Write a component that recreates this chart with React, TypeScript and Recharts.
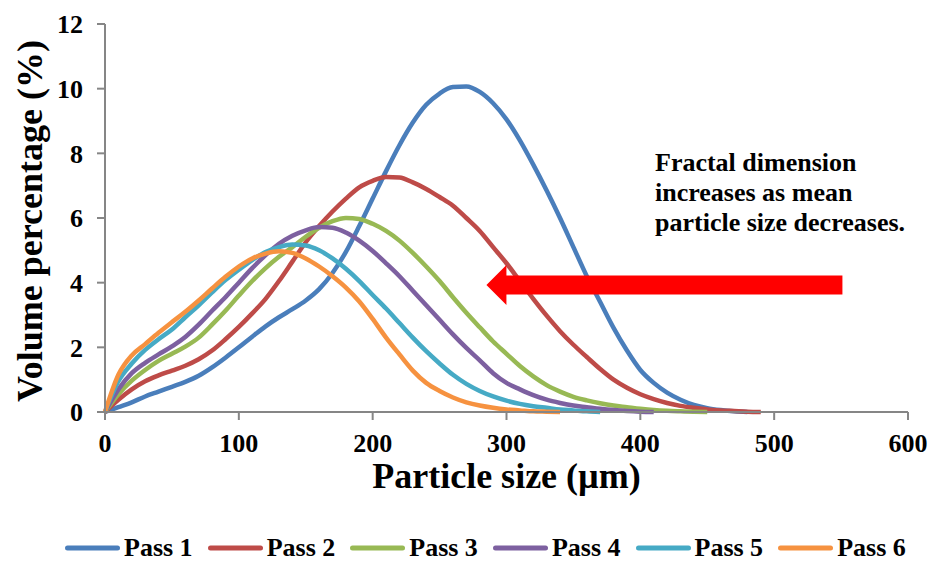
import { LineChart, Line, XAxis, YAxis, Legend, ReferenceLine, Label } from "recharts";

// particle size grid (µm), one reading every 10 µm
const sizes = [
  0, 10, 20, 30, 40, 50, 60, 70, 80, 90, 100, 110, 120, 130, 140, 150, 160, 170, 180, 190, 200, 210, 220, 230,
  240, 250, 260, 270, 280, 290, 300, 310, 320, 330, 340, 350, 360, 370, 380, 390, 400, 410, 420, 430, 440, 450,
  460, 470, 480, 490, 500,
];

// volume percentage for each pass
const pass1 = [
  0, 0.15, 0.3, 0.48, 0.63, 0.78, 0.93, 1.12, 1.38, 1.68, 2.0, 2.33, 2.65, 2.93, 3.18, 3.45, 3.8, 4.3, 4.95, 5.75,
  6.6, 7.45, 8.25, 8.95, 9.5, 9.85, 10.05, 10.07, 9.9, 9.55, 9.05, 8.4, 7.65, 6.85, 6.0, 5.1, 4.2, 3.4, 2.6, 1.9,
  1.3, 0.9, 0.6, 0.38, 0.22, 0.12, 0.06, 0.02, 0,
];
const pass2 = [
  0, 0.38, 0.7, 0.95, 1.13, 1.28, 1.43, 1.63, 1.9, 2.25, 2.63, 3.05, 3.5, 4.05, 4.65, 5.25, 5.75, 6.2, 6.6, 6.95,
  7.15, 7.27, 7.25, 7.1, 6.9, 6.65, 6.38, 6.0, 5.6, 5.1, 4.6, 4.05, 3.5, 2.98, 2.5, 2.08, 1.7, 1.33, 1.0, 0.75,
  0.55, 0.4, 0.28, 0.19, 0.13, 0.08, 0.05, 0.03, 0.01, 0,
];
const pass3 = [
  0, 0.55, 0.97, 1.3, 1.58, 1.8, 2.02, 2.3, 2.7, 3.13, 3.6, 4.05, 4.45, 4.8, 5.1, 5.42, 5.7, 5.9, 6.0, 5.97, 5.82,
  5.6, 5.3, 4.92, 4.5, 4.05, 3.55, 3.07, 2.62, 2.18, 1.8, 1.42, 1.1, 0.83, 0.63, 0.47, 0.36, 0.27, 0.2, 0.15, 0.1,
  0.06, 0.035, 0.02, 0.008, 0,
];
const pass4 = [
  0, 0.7, 1.2, 1.52, 1.78, 2.03, 2.32, 2.7, 3.13, 3.55, 4.0, 4.45, 4.85, 5.2, 5.45, 5.62, 5.72, 5.7, 5.55, 5.3,
  4.98, 4.6, 4.2, 3.75, 3.3, 2.85, 2.4, 1.98, 1.6, 1.2, 0.9, 0.7, 0.52, 0.38, 0.28, 0.2, 0.15, 0.1, 0.06, 0.03,
  0.01, 0,
];
const pass5 = [
  0, 0.95, 1.5, 1.92, 2.25, 2.55, 2.93, 3.3, 3.7, 4.08, 4.4, 4.7, 4.95, 5.1, 5.18, 5.15, 5.0, 4.75, 4.43, 4.05,
  3.62, 3.2, 2.75, 2.3, 1.88, 1.5, 1.15, 0.87, 0.65, 0.48, 0.35, 0.25, 0.18, 0.13, 0.08, 0.05, 0.02, 0,
];
const pass6 = [
  0, 1.15, 1.75, 2.1, 2.45, 2.78, 3.1, 3.45, 3.82, 4.18, 4.5, 4.75, 4.9, 4.97, 4.92, 4.75, 4.5, 4.2, 3.85, 3.42,
  2.88, 2.3, 1.78, 1.28, 0.9, 0.65, 0.45, 0.3, 0.2, 0.13, 0.08, 0.05, 0.02, 0.01, 0,
];

const seriesNames = ["Pass 1", "Pass 2", "Pass 3", "Pass 4", "Pass 5", "Pass 6"];
const seriesValues = [pass1, pass2, pass3, pass4, pass5, pass6];
const seriesColors = ["#4A7EBB", "#BE4B48", "#98B954", "#7D60A0", "#46AAC5", "#F69240"];

const xTicks = [0, 100, 200, 300, 400, 500, 600];
const yTicks = [0, 2, 4, 6, 8, 10, 12];

const noteLines = ["Fractal dimension", "increases as mean", "particle size decreases."];
// arrow: from tail to tip, in data units
const arrowTail = { x: 551, y: 3.93 };
const arrowTip = { x: 285, y: 3.93 };

const FONT = '"Liberation Serif", "Times New Roman", serif';
const AXIS_GRAY = "#868686";

const tickStyle = { fontSize: 26, fontWeight: "bold", fill: "#000", fontFamily: FONT };

function ArrowShape(props: any) {
  const { x1, y1, x2 } = props;
  const half = 9.5;
  const headHalf = 20;
  const headLen = 20;
  const y = y1;
  const d = `M${x1},${y - half} L${x2 + headLen},${y - half} L${x2 + headLen},${y - headHalf} L${x2},${y} L${
    x2 + headLen
  },${y + headHalf} L${x2 + headLen},${y + half} L${x1},${y + half} Z`;
  return <path d={d} fill="#FF0000" />;
}

function LegendContent({ payload }: any) {
  return (
    <div style={{ display: "flex", alignItems: "center", height: 26, gap: 15, fontFamily: FONT }}>
      {(payload || []).map((entry: any) => (
        <div key={entry.value} style={{ display: "flex", alignItems: "center" }}>
          <svg width={55} height={10}>
            <line x1={2.5} y1={5} x2={52.5} y2={5} stroke={entry.color} strokeWidth={5} strokeLinecap="round" />
          </svg>
          <span style={{ marginLeft: 4, fontSize: 26, fontWeight: "bold", lineHeight: "26px", color: "#000" }}>
            {entry.value}
          </span>
        </div>
      ))}
    </div>
  );
}

export default function App() {
  return (
    <div style={{ position: "relative", width: 932, height: 561, fontFamily: FONT, background: "#fff" }}>
      <style>{"body{margin:0}"}</style>
      <LineChart width={932} height={561} margin={{ top: 24, right: 24, left: 0, bottom: 0 }}>
        <XAxis
          type="number"
          dataKey="size"
          domain={[0, 600]}
          ticks={xTicks}
          height={123}
          tickSize={8}
          tickMargin={14}
          tick={tickStyle}
          axisLine={{ stroke: AXIS_GRAY, strokeWidth: 2 }}
          tickLine={{ stroke: AXIS_GRAY, strokeWidth: 2 }}
        >
          <Label
            content={({ viewBox }: any) => (
              <text
                x={viewBox.x + viewBox.width / 2}
                y={viewBox.y + 76}
                textAnchor="middle"
                fontSize={36}
                fontWeight="bold"
                fontFamily={FONT}
                fill="#000"
              >
                Particle size (µm)
              </text>
            )}
          />
        </XAxis>
        <YAxis
          type="number"
          domain={[0, 12]}
          ticks={yTicks}
          width={105}
          tickSize={8}
          tickMargin={14}
          tick={tickStyle}
          axisLine={{ stroke: AXIS_GRAY, strokeWidth: 2 }}
          tickLine={{ stroke: AXIS_GRAY, strokeWidth: 2 }}
        >
          <Label
            content={({ viewBox }: any) => {
              const cy = viewBox.y + viewBox.height / 2 + 3;
              return (
                <text
                  x={30}
                  y={cy}
                  transform={`rotate(-90, 30, ${cy})`}
                  textAnchor="middle"
                  dominantBaseline="central"
                  fontSize={36}
                  fontWeight="bold"
                  fontFamily={FONT}
                  fill="#000"
                >
                  Volume percentage (%)
                </text>
              );
            }}
          />
        </YAxis>
        <Legend
          verticalAlign="bottom"
          content={<LegendContent />}
          wrapperStyle={{ left: 65, width: 860, bottom: 0 }}
        />
        {seriesValues.map((vals, i) => (
          <Line
            key={seriesNames[i]}
            name={seriesNames[i]}
            data={vals.map((v, j) => ({ size: sizes[j], v }))}
            dataKey="v"
            type="monotone"
            stroke={seriesColors[i]}
            strokeWidth={4.5}
            dot={false}
            activeDot={false}
            isAnimationActive={false}
          />
        ))}
        <ReferenceLine segment={[arrowTail, arrowTip]} shape={<ArrowShape />} />
      </LineChart>
      <div
        style={{
          position: "absolute",
          left: 655,
          top: 148,
          fontSize: 26,
          lineHeight: "30px",
          fontWeight: "bold",
          color: "#000",
          whiteSpace: "nowrap",
        }}
      >
        {noteLines.map((t) => (
          <div key={t}>{t}</div>
        ))}
      </div>
    </div>
  );
}
